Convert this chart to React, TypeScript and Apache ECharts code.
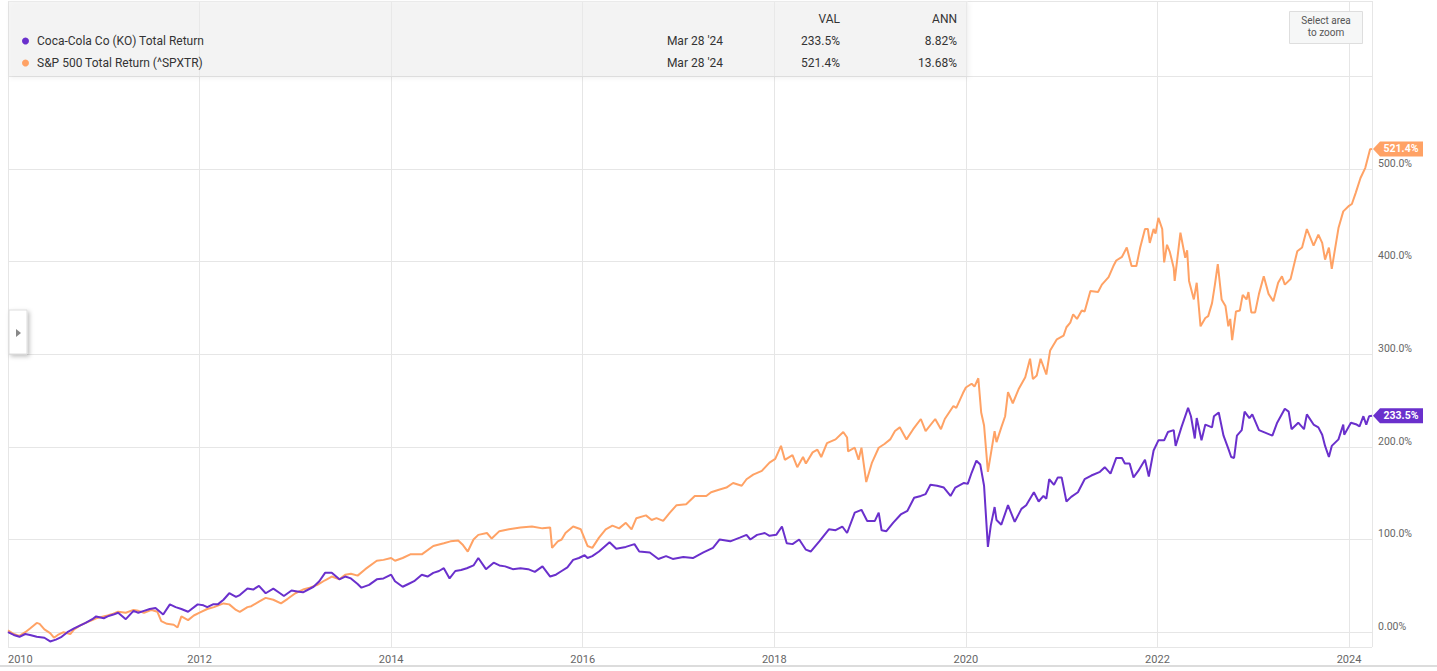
import React, { useEffect, useRef } from "react";
import * as echarts from "echarts";

const KO_NAME = "Coca-Cola Co (KO) Total Return";
const SPX_NAME = "S&P 500 Total Return (^SPXTR)";
const KO_COLOR = "#6a30cc";
const SPX_COLOR = "#ffa265";

const koYears = [
  2010.00, 2010.06, 2010.12, 2010.18, 2010.23, 2010.30, 2010.38, 2010.44, 2010.50, 2010.56,
  2010.62, 2010.69, 2010.75, 2010.81, 2010.88, 2010.92, 2011.00, 2011.04, 2011.10, 2011.15,
  2011.23, 2011.31, 2011.36, 2011.42, 2011.48, 2011.54, 2011.62, 2011.69, 2011.75, 2011.81,
  2011.88, 2011.98, 2012.04, 2012.08, 2012.14, 2012.19, 2012.25, 2012.31, 2012.38, 2012.42,
  2012.50, 2012.56, 2012.62, 2012.69, 2012.77, 2012.84, 2012.88, 2012.96, 2013.02, 2013.08,
  2013.19, 2013.25, 2013.31, 2013.38, 2013.46, 2013.52, 2013.58, 2013.65, 2013.69, 2013.77,
  2013.85, 2013.92, 2014.00, 2014.04, 2014.12, 2014.18, 2014.24, 2014.32, 2014.38, 2014.44,
  2014.50, 2014.55, 2014.61, 2014.67, 2014.73, 2014.79, 2014.86, 2014.91, 2014.99, 2015.07,
  2015.13, 2015.19, 2015.27, 2015.35, 2015.43, 2015.50, 2015.58, 2015.66, 2015.72, 2015.78,
  2015.84, 2015.90, 2015.96, 2016.02, 2016.05, 2016.10, 2016.17, 2016.28, 2016.35, 2016.45,
  2016.54, 2016.59, 2016.70, 2016.79, 2016.87, 2016.94, 2017.05, 2017.15, 2017.26, 2017.36,
  2017.43, 2017.54, 2017.64, 2017.71, 2017.75, 2017.82, 2017.90, 2017.95, 2018.02, 2018.08,
  2018.13, 2018.19, 2018.26, 2018.33, 2018.38, 2018.47, 2018.57, 2018.64, 2018.71, 2018.76,
  2018.84, 2018.91, 2018.97, 2019.05, 2019.09, 2019.12, 2019.17, 2019.24, 2019.32, 2019.39,
  2019.46, 2019.53, 2019.58, 2019.63, 2019.70, 2019.77, 2019.84, 2019.89, 2019.98, 2020.02,
  2020.06, 2020.11, 2020.15, 2020.19, 2020.23, 2020.26, 2020.30, 2020.32, 2020.37, 2020.44,
  2020.51, 2020.58, 2020.63, 2020.71, 2020.76, 2020.81, 2020.84, 2020.87, 2020.92, 2020.96,
  2021.00, 2021.05, 2021.10, 2021.17, 2021.24, 2021.31, 2021.40, 2021.45, 2021.51, 2021.57,
  2021.63, 2021.66, 2021.71, 2021.75, 2021.80, 2021.87, 2021.91, 2021.96, 2022.01, 2022.07,
  2022.11, 2022.17, 2022.19, 2022.25, 2022.32, 2022.35, 2022.39, 2022.41, 2022.46, 2022.50,
  2022.57, 2022.59, 2022.64, 2022.69, 2022.74, 2022.77, 2022.80, 2022.83, 2022.88, 2022.91,
  2022.96, 2022.99, 2023.06, 2023.13, 2023.20, 2023.25, 2023.33, 2023.37, 2023.40, 2023.47,
  2023.53, 2023.56, 2023.63, 2023.68, 2023.72, 2023.75, 2023.79, 2023.82, 2023.89, 2023.94,
  2023.95, 2024.02, 2024.08, 2024.11, 2024.15, 2024.18, 2024.21, 2024.24,
];
const koValues = [
  0, -3, -5, -2, -3, -5, -6, -10, -8, -5,
  0, 4, 7, 10, 14, 17, 15, 17, 19, 21,
  14, 23, 21, 23, 25, 26, 19, 30, 27, 25,
  22, 30, 29, 27, 30, 30, 35, 42, 38, 40,
  47, 46, 50, 42, 47, 42, 39, 45, 44, 43,
  49, 55, 64, 64, 57, 60, 58, 52, 48, 51,
  57, 58, 62, 55, 49, 52, 55, 62, 60, 64,
  66, 69, 58, 66, 67, 69, 72, 80, 68, 75,
  72, 71, 68, 69, 68, 65, 71, 60, 62, 66,
  70, 78, 80, 83, 80, 82, 87, 97, 90, 92,
  95, 87, 86, 79, 82, 79, 81, 80, 86, 91,
  100, 98, 102, 105, 100, 105, 107, 104, 105, 114,
  96, 95, 100, 89, 87, 98, 111, 110, 114, 107,
  129, 132, 120, 120, 129, 110, 109, 118, 127, 131,
  145, 147, 149, 159, 158, 156, 147, 156, 161, 160,
  172, 185, 181, 158, 92, 115, 135, 121, 116, 137,
  119, 133, 137, 151, 141, 147, 144, 165, 159, 167,
  167, 141, 146, 151, 165, 169, 173, 178, 171, 188,
  188, 182, 182, 167, 174, 186, 168, 196, 207, 207,
  216, 218, 201, 221, 242, 233, 209, 231, 207, 224,
  221, 233, 237, 212, 198, 189, 188, 212, 218, 238,
  231, 235, 218, 215, 212, 226, 241, 238, 219, 226,
  219, 235, 224, 221, 213, 201, 189, 201, 208, 224,
  213, 226, 224, 222, 233, 224, 233, 233.5,
];

const spxYears = [
  2010.00, 2010.06, 2010.12, 2010.18, 2010.23, 2010.30, 2010.33, 2010.38, 2010.44, 2010.48,
  2010.52, 2010.58, 2010.65, 2010.69, 2010.75, 2010.81, 2010.88, 2010.92, 2011.04, 2011.10,
  2011.15, 2011.23, 2011.31, 2011.36, 2011.42, 2011.50, 2011.56, 2011.60, 2011.66, 2011.73,
  2011.77, 2011.81, 2011.88, 2011.94, 2012.00, 2012.08, 2012.15, 2012.25, 2012.31, 2012.38,
  2012.42, 2012.50, 2012.54, 2012.62, 2012.69, 2012.77, 2012.85, 2012.92, 2013.00, 2013.08,
  2013.15, 2013.23, 2013.31, 2013.38, 2013.46, 2013.52, 2013.58, 2013.65, 2013.73, 2013.85,
  2013.92, 2014.00, 2014.04, 2014.12, 2014.20, 2014.32, 2014.44, 2014.55, 2014.62, 2014.70,
  2014.75, 2014.80, 2014.86, 2014.91, 2015.00, 2015.05, 2015.13, 2015.23, 2015.35, 2015.47,
  2015.58, 2015.66, 2015.68, 2015.74, 2015.78, 2015.82, 2015.90, 2015.98, 2016.05, 2016.10,
  2016.17, 2016.24, 2016.31, 2016.38, 2016.45, 2016.51, 2016.56, 2016.66, 2016.72, 2016.77,
  2016.84, 2016.91, 2016.98, 2017.08, 2017.17, 2017.29, 2017.34, 2017.43, 2017.50, 2017.57,
  2017.66, 2017.71, 2017.78, 2017.87, 2017.95, 2018.01, 2018.07, 2018.11, 2018.19, 2018.24,
  2018.30, 2018.33, 2018.40, 2018.45, 2018.49, 2018.55, 2018.64, 2018.72, 2018.76, 2018.77,
  2018.84, 2018.88, 2018.91, 2018.96, 2019.02, 2019.09, 2019.15, 2019.21, 2019.26, 2019.31,
  2019.38, 2019.45, 2019.53, 2019.58, 2019.68, 2019.74, 2019.78, 2019.87, 2019.90, 2019.97,
  2020.00, 2020.06, 2020.09, 2020.13, 2020.16, 2020.19, 2020.23, 2020.27, 2020.30, 2020.32,
  2020.37, 2020.41, 2020.44, 2020.49, 2020.55, 2020.62, 2020.67, 2020.70, 2020.74, 2020.78,
  2020.84, 2020.88, 2020.95, 2021.02, 2021.05, 2021.09, 2021.12, 2021.16, 2021.21, 2021.24,
  2021.30, 2021.38, 2021.42, 2021.49, 2021.54, 2021.57, 2021.63, 2021.68, 2021.73, 2021.78,
  2021.82, 2021.87, 2021.90, 2021.92, 2021.96, 2021.98, 2022.01, 2022.05, 2022.07, 2022.10,
  2022.13, 2022.17, 2022.18, 2022.24, 2022.29, 2022.31, 2022.33, 2022.38, 2022.41, 2022.45,
  2022.50, 2022.53, 2022.57, 2022.60, 2022.63, 2022.67, 2022.71, 2022.74, 2022.76, 2022.78,
  2022.82, 2022.86, 2022.89, 2022.93, 2022.95, 2022.98, 2023.02, 2023.06, 2023.11, 2023.16,
  2023.21, 2023.26, 2023.30, 2023.33, 2023.39, 2023.46, 2023.51, 2023.56, 2023.63, 2023.68,
  2023.72, 2023.75, 2023.79, 2023.82, 2023.89, 2023.94, 2024.00, 2024.03, 2024.07, 2024.12,
  2024.17, 2024.22, 2024.24,
];
const spxValues = [
  2, -2, -4, 0, 4, 10, 9, 3, -1, -6,
  -3, 0, -2, 3, 7, 10, 13, 15, 18, 20,
  22, 21, 24, 23, 21, 24, 22, 12, 9, 8,
  5, 17, 13, 18, 21, 25, 27, 31, 30, 24,
  22, 27, 28, 33, 37, 35, 31, 36, 42, 46,
  48, 51, 56, 60, 57, 62, 63, 61, 68, 77,
  78, 80, 77, 80, 84, 84, 93, 96, 98, 99,
  94, 87, 100, 105, 107, 101, 109, 111, 113, 114,
  112, 113, 91, 98, 100, 107, 114, 111, 93, 91,
  102, 111, 115, 112, 118, 111, 123, 126, 121, 123,
  120, 129, 137, 138, 147, 147, 151, 154, 156, 161,
  158, 165, 170, 174, 183, 187, 201, 186, 191, 178,
  189, 182, 194, 197, 189, 204, 208, 216, 210, 195,
  199, 186, 199, 162, 183, 199, 203, 208, 217, 221,
  208, 219, 230, 217, 230, 219, 230, 244, 242, 258,
  264, 268, 265, 274, 237, 223, 173, 198, 217, 205,
  221, 233, 259, 247, 262, 275, 295, 273, 277, 295,
  278, 304, 316, 320, 329, 334, 343, 338, 347, 346,
  368, 367, 375, 383, 395, 401, 405, 415, 395, 395,
  415, 435, 435, 420, 435, 430, 447, 435, 399, 418,
  410, 393, 379, 431, 404, 412, 379, 359, 377, 330,
  339, 341, 355, 375, 397, 359, 352, 330, 338, 315,
  346, 347, 364, 359, 367, 345, 345, 365, 384, 365,
  357, 377, 384, 375, 381, 411, 415, 435, 417, 429,
  420, 402, 415, 392, 436, 454, 460, 462, 474, 490,
  501, 521, 521.4,
];

const xTickYears = [2010, 2012, 2014, 2016, 2018, 2020, 2022, 2024];
const yTickValues = [0, 100, 200, 300, 400, 500];
const lastDateLabel = "Mar 28 '24";
const koVal = "233.5%";
const koAnn = "8.82%";
const spxVal = "521.4%";
const spxAnn = "13.68%";

const FONT = "Roboto, 'Noto Sans', sans-serif";

function tag(years: number[], values: number[], color: string, text: string) {
  const n = years.length - 1;
  return {
    silent: true,
    symbol: "path://M0,7L7,0L50,0L50,14L7,14Z",
    symbolSize: [50, 15],
    symbolOffset: [26, 0],
    symbolKeepAspect: false,
    itemStyle: { color },
    label: {
      show: true,
      position: "inside",
      formatter: text,
      color: "#fff",
      fontWeight: "bold",
      fontSize: 10.5,
      fontFamily: FONT,
      offset: [3, 0],
    },
    data: [{ coord: [years[n], values[n]], value: text }],
  };
}

export default function App() {
  const ref = useRef<HTMLDivElement>(null);
  useEffect(() => {
    document.body.style.margin = "0";
    if (!ref.current) return;
    const chart = echarts.init(ref.current, null, { renderer: "svg" });
    const koData = koYears.map((t, i) => [t, koValues[i]]);
    const spxData = spxYears.map((t, i) => [t, spxValues[i]]);
    const gridLine = "#e6e6e6";
    chart.setOption({
      animation: false,
      backgroundColor: "#ffffff",
      textStyle: { fontFamily: FONT },
      grid: { left: 8, right: 65, top: 1, bottom: 24, containLabel: false },
      legend: {
        orient: "vertical",
        left: 17,
        top: 30,
        itemGap: 10,
        itemWidth: 7,
        itemHeight: 7,
        icon: "circle",
        selectedMode: false,
        textStyle: { color: "#333", fontSize: 12, fontFamily: FONT, padding: [0, 0, 0, 3] },
        data: [KO_NAME, SPX_NAME],
        z: 10,
      },
      xAxis: {
        type: "value",
        min: xTickYears[0],
        max: 2024.24,
        interval: 2,
        axisLine: { show: true, lineStyle: { color: gridLine } },
        axisTick: { show: false },
        splitLine: { show: true, lineStyle: { color: gridLine, width: 1 } },
        axisLabel: {
          color: "#666",
          fontSize: 11,
          fontFamily: FONT,
          margin: 7,
          alignMinLabel: "left",
          formatter: (v: number) => (xTickYears.includes(v) ? String(v) : ""),
        },
      },
      yAxis: {
        type: "value",
        position: "right",
        min: -16,
        max: 681,
        splitNumber: 7,
        axisLine: { show: false },
        axisTick: { show: false },
        splitLine: { show: true, lineStyle: { color: gridLine, width: 1 } },
        axisLabel: {
          color: "#666",
          fontSize: 10.5,
          fontFamily: FONT,
          margin: 6,
          verticalAlign: "bottom",
          formatter: (v: number) =>
            yTickValues.includes(v) ? (v === 0 ? "0.00%" : v.toFixed(1) + "%") : "",
        },
      },
      series: [
        {
          name: SPX_NAME,
          type: "line",
          data: spxData,
          showSymbol: false,
          clip: false,
          color: SPX_COLOR,
          lineStyle: { color: SPX_COLOR, width: 2 },
          z: 3,
          markPoint: tag(spxYears, spxValues, SPX_COLOR, spxVal),
        },
        {
          name: KO_NAME,
          type: "line",
          data: koData,
          showSymbol: false,
          clip: false,
          color: KO_COLOR,
          lineStyle: { color: KO_COLOR, width: 2 },
          z: 4,
          markPoint: tag(koYears, koValues, KO_COLOR, koVal),
        },
      ],
      graphic: [
        {
          type: "rect",
          z: 1,
          shape: { x: 9, y: 1, width: 959, height: 75 },
          style: {
            fill: "rgba(238,238,238,0.55)",
            shadowBlur: 5,
            shadowColor: "rgba(0,0,0,0.10)",
            shadowOffsetY: 2,
            shadowOffsetX: 1,
          },
        },
        { type: "text", z: 5, style: { text: "VAL", x: 840, y: 19, align: "right", verticalAlign: "middle", fill: "#333", fontSize: 12, fontFamily: FONT } },
        { type: "text", z: 5, style: { text: "ANN", x: 957, y: 19, align: "right", verticalAlign: "middle", fill: "#333", fontSize: 12, fontFamily: FONT } },
        { type: "text", z: 5, style: { text: lastDateLabel, x: 723, y: 41, align: "right", verticalAlign: "middle", fill: "#333", fontSize: 12, fontFamily: FONT } },
        { type: "text", z: 5, style: { text: koVal, x: 840, y: 41, align: "right", verticalAlign: "middle", fill: "#333", fontSize: 12, fontFamily: FONT } },
        { type: "text", z: 5, style: { text: koAnn, x: 957, y: 41, align: "right", verticalAlign: "middle", fill: "#333", fontSize: 12, fontFamily: FONT } },
        { type: "text", z: 5, style: { text: lastDateLabel, x: 723, y: 63, align: "right", verticalAlign: "middle", fill: "#333", fontSize: 12, fontFamily: FONT } },
        { type: "text", z: 5, style: { text: spxVal, x: 840, y: 63, align: "right", verticalAlign: "middle", fill: "#333", fontSize: 12, fontFamily: FONT } },
        { type: "text", z: 5, style: { text: spxAnn, x: 957, y: 63, align: "right", verticalAlign: "middle", fill: "#333", fontSize: 12, fontFamily: FONT } },
        {
          type: "rect",
          z: 5,
          shape: { x: 1289.5, y: 11.5, width: 73, height: 32 },
          style: { fill: "#f6f7f7", stroke: "#dedede", lineWidth: 1 },
        },
        { type: "text", z: 6, style: { text: "Select area", x: 1326, y: 20, align: "center", verticalAlign: "middle", fill: "#555", fontSize: 10, fontFamily: FONT } },
        { type: "text", z: 6, style: { text: "to zoom", x: 1326, y: 32, align: "center", verticalAlign: "middle", fill: "#555", fontSize: 10, fontFamily: FONT } },
        {
          type: "rect",
          z: 5,
          shape: { x: 9, y: 310, width: 18, height: 44 },
          style: { fill: "#fff", stroke: "#dddddd", lineWidth: 1, shadowBlur: 4, shadowColor: "rgba(0,0,0,0.25)", shadowOffsetX: 2, shadowOffsetY: 2 },
        },
        {
          type: "polygon",
          z: 6,
          shape: { points: [[16, 329], [16, 337], [21, 333]] },
          style: { fill: "#888" },
        },
        {
          type: "line",
          z: 5,
          shape: { x1: 0, y1: 666, x2: 1437, y2: 666 },
          style: { stroke: "#d0d0d0", lineWidth: 1.5 },
        },
      ],
    });
    return () => chart.dispose();
  }, []);
  return <div ref={ref} style={{ width: 1437, height: 671 }} />;
}
